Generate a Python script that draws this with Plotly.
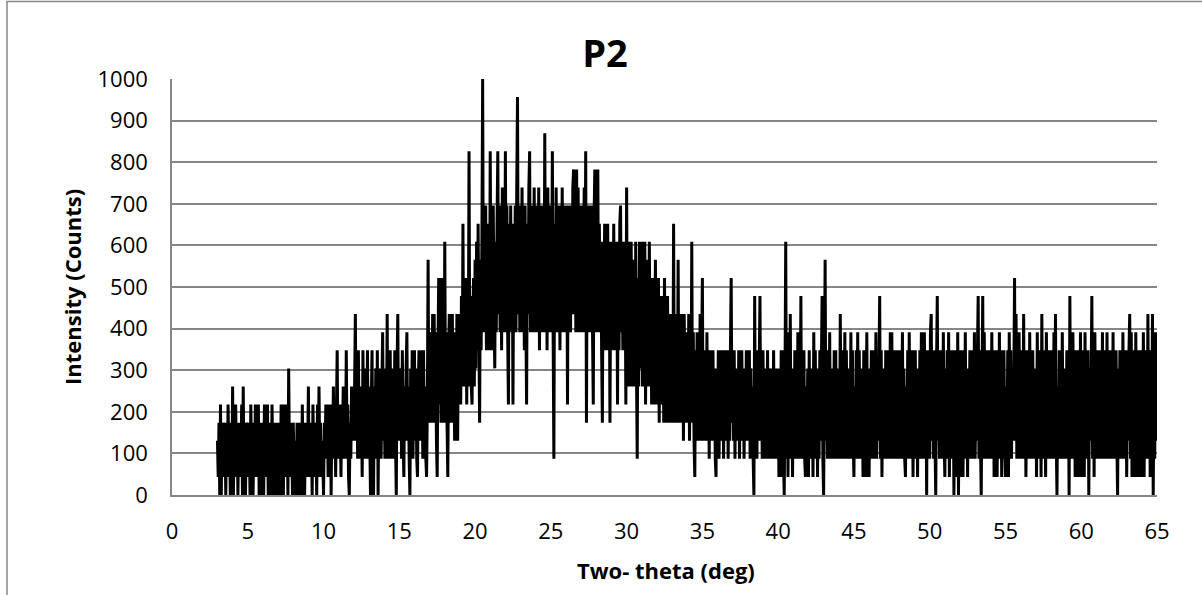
import plotly.graph_objects as go

# Counts (1 count = 1000/23 intensity units).
# One row per degree, 20 samples per row (0.05 deg apart), starting at 3.00 deg.
two_theta_start = 3.0
two_theta_step = 0.05
counts_per_intensity = 23 / 1000.0

counts_03_10 = [
    [3, 1, 4, 0, 5, 0, 3, 1, 4, 2, 3, 0, 4, 1, 5, 2, 3, 0, 4, 1],
    [6, 0, 3, 1, 5, 2, 4, 0, 3, 1, 4, 2, 5, 0, 6, 1, 3, 0, 4, 2],
    [4, 1, 3, 0, 5, 2, 4, 0, 3, 1, 5, 2, 4, 1, 5, 0, 3, 1, 4, 0],
    [3, 0, 5, 1, 4, 2, 5, 0, 3, 1, 4, 0, 5, 2, 3, 0, 4, 1, 3, 0],
    [4, 1, 3, 0, 5, 2, 4, 0, 5, 2, 5, 1, 4, 0, 7, 2, 4, 1, 3, 0],
    [4, 2, 0, 3, 0, 4, 1, 3, 0, 4, 2, 0, 5, 1, 4, 0, 3, 1, 4, 2],
    [6, 1, 4, 2, 3, 0, 5, 2, 4, 1, 3, 0, 5, 1, 6, 2, 4, 1, 3, 2],
]
counts_10_20 = [
    [0, 4, 2, 5, 3, 5, 1, 4, 2, 5, 0, 4, 2, 6, 3, 5, 1, 4, 8, 2],
    [5, 2, 4, 1, 5, 3, 6, 2, 4, 2, 8, 3, 5, 1, 0, 4, 2, 6, 3, 5],
    [3, 6, 10, 3, 7, 2, 8, 3, 6, 2, 5, 1, 8, 3, 7, 2, 6, 3, 8, 2],
    [6, 3, 0, 5, 8, 2, 0, 6, 3, 7, 2, 8, 0, 5, 3, 7, 2, 6, 9, 3],
    [6, 2, 7, 3, 10, 2, 6, 3, 8, 2, 7, 3, 6, 2, 8, 3, 0, 7, 10, 3],
    [7, 3, 6, 2, 8, 3, 1, 6, 3, 7, 9, 3, 6, 2, 0, 7, 3, 8, 2, 6],
    [8, 3, 7, 2, 1, 6, 8, 3, 7, 4, 8, 2, 8, 3, 6, 2, 1, 5, 13, 4],
    [8, 4, 9, 5, 10, 4, 10, 5, 9, 3, 1, 8, 12, 5, 11, 4, 12, 5, 9, 4],
    [14, 5, 9, 4, 1, 8, 10, 4, 9, 5, 10, 4, 9, 3, 8, 3, 10, 3, 9, 5],
    [10, 5, 11, 6, 15, 6, 12, 7, 11, 5, 12, 6, 19, 7, 11, 6, 5, 10, 12, 6],
]
counts_20_30 = [
    [13, 7, 14, 8, 15, 9, 4, 13, 8, 14, 23, 9, 15, 10, 16, 8, 14, 9, 15, 8],
    [19, 9, 15, 8, 16, 10, 7, 14, 9, 15, 19, 10, 16, 9, 15, 8, 17, 10, 15, 9],
    [19, 10, 16, 9, 5, 15, 10, 16, 9, 15, 5, 14, 10, 16, 9, 17, 22, 10, 16, 9],
    [16, 10, 17, 9, 15, 8, 16, 10, 5, 15, 10, 17, 19, 9, 16, 10, 15, 9, 17, 10],
    [15, 9, 16, 10, 17, 8, 15, 9, 16, 10, 15, 9, 20, 10, 16, 8, 17, 10, 15, 9],
    [16, 10, 19, 9, 2, 15, 10, 17, 9, 16, 10, 15, 8, 16, 10, 17, 9, 15, 10, 16],
    [9, 15, 5, 16, 10, 15, 9, 16, 10, 17, 18, 10, 16, 9, 18, 10, 17, 9, 15, 10],
    [16, 9, 15, 10, 17, 9, 19, 4, 15, 10, 16, 9, 15, 10, 16, 9, 5, 15, 18, 9],
    [18, 10, 18, 9, 15, 10, 14, 8, 4, 14, 9, 15, 8, 14, 10, 15, 8, 14, 4, 13],
    [9, 14, 8, 15, 9, 14, 8, 13, 5, 14, 8, 15, 16, 9, 13, 8, 14, 9, 13, 5],
]
counts_30_40 = [
    [17, 7, 13, 6, 14, 7, 14, 6, 13, 7, 12, 6, 14, 7, 2, 12, 6, 14, 7, 12],
    [14, 6, 12, 7, 14, 5, 13, 6, 12, 7, 14, 6, 11, 5, 12, 6, 11, 5, 13, 6],
    [11, 5, 12, 4, 10, 6, 11, 5, 10, 4, 12, 5, 9, 4, 11, 5, 10, 4, 9, 5],
    [10, 4, 15, 5, 9, 4, 10, 5, 13, 4, 9, 5, 10, 4, 9, 3, 10, 5, 9, 4],
    [9, 4, 10, 3, 8, 4, 14, 4, 9, 3, 1, 8, 4, 9, 3, 8, 4, 10, 3, 8],
    [12, 3, 8, 4, 7, 3, 9, 4, 7, 2, 8, 3, 7, 4, 8, 3, 7, 2, 1, 7],
    [3, 8, 2, 7, 4, 8, 3, 7, 2, 8, 4, 7, 3, 8, 2, 7, 3, 8, 12, 4],
    [7, 3, 8, 2, 7, 4, 6, 3, 8, 2, 7, 3, 8, 4, 7, 2, 6, 3, 8, 3],
    [7, 3, 8, 2, 7, 3, 6, 2, 0, 11, 3, 7, 2, 8, 3, 7, 11, 3, 7, 2],
    [8, 3, 7, 2, 6, 3, 8, 2, 7, 4, 6, 2, 7, 3, 8, 2, 6, 3, 7, 2],
]
counts_40_50 = [
    [6, 1, 7, 2, 8, 1, 8, 2, 0, 6, 14, 2, 6, 1, 9, 3, 10, 2, 6, 1],
    [7, 2, 8, 3, 6, 2, 9, 2, 7, 3, 11, 2, 6, 3, 8, 2, 1, 6, 2, 7],
    [1, 8, 3, 7, 2, 6, 1, 9, 2, 8, 3, 6, 1, 7, 2, 8, 3, 7, 11, 2],
    [0, 6, 13, 3, 7, 2, 8, 3, 9, 2, 6, 3, 7, 2, 8, 3, 8, 2, 6, 3],
    [7, 2, 10, 3, 8, 2, 7, 3, 9, 2, 8, 3, 6, 2, 7, 3, 9, 2, 8, 3],
    [1, 6, 2, 8, 3, 9, 2, 8, 3, 7, 2, 6, 1, 8, 3, 6, 1, 9, 2, 6],
    [1, 7, 2, 8, 3, 8, 2, 6, 3, 9, 2, 6, 3, 7, 11, 2, 8, 1, 7, 2],
    [6, 3, 8, 2, 8, 3, 6, 2, 9, 3, 9, 2, 6, 3, 8, 2, 6, 3, 8, 2],
    [6, 3, 8, 2, 9, 3, 7, 2, 1, 6, 3, 8, 2, 9, 3, 6, 2, 8, 1, 6],
    [3, 8, 2, 6, 1, 7, 3, 8, 2, 9, 3, 7, 2, 9, 3, 6, 0, 8, 3, 8],
]
counts_50_60 = [
    [2, 9, 10, 3, 7, 2, 8, 3, 0, 7, 11, 3, 6, 2, 8, 3, 8, 2, 9, 3],
    [1, 7, 2, 8, 3, 9, 1, 6, 2, 8, 3, 6, 0, 8, 1, 6, 2, 9, 0, 6],
    [1, 8, 3, 6, 1, 8, 2, 9, 3, 7, 1, 6, 2, 8, 3, 8, 2, 6, 3, 9],
    [2, 6, 3, 8, 11, 2, 8, 3, 0, 6, 11, 2, 9, 3, 6, 2, 8, 3, 8, 2],
    [7, 3, 9, 2, 8, 1, 6, 3, 8, 1, 6, 2, 9, 3, 8, 1, 6, 2, 8, 3],
    [1, 6, 2, 8, 1, 9, 3, 8, 2, 7, 3, 6, 12, 3, 10, 2, 8, 3, 9, 2],
    [8, 2, 6, 3, 10, 2, 8, 1, 6, 3, 8, 2, 9, 3, 7, 2, 8, 3, 7, 2],
    [6, 1, 9, 3, 6, 2, 8, 1, 10, 3, 6, 2, 8, 1, 9, 3, 7, 2, 8, 3],
    [8, 2, 6, 3, 9, 2, 10, 3, 0, 6, 2, 8, 3, 8, 2, 9, 3, 7, 2, 6],
    [3, 8, 2, 6, 0, 11, 3, 8, 2, 9, 3, 7, 1, 8, 2, 8, 1, 6, 2, 9],
]
counts_60_65 = [
    [1, 6, 2, 8, 1, 9, 3, 7, 2, 8, 0, 7, 3, 6, 11, 2, 8, 1, 9, 3],
    [7, 2, 8, 3, 8, 2, 6, 3, 9, 2, 6, 3, 8, 2, 9, 3, 6, 2, 8, 3],
    [6, 2, 9, 3, 8, 2, 8, 3, 0, 7, 2, 8, 3, 7, 2, 9, 3, 6, 2, 8],
    [1, 6, 3, 8, 10, 2, 9, 1, 7, 3, 8, 1, 9, 2, 8, 1, 6, 3, 8, 1],
    [6, 2, 9, 1, 8, 3, 7, 2, 10, 3, 8, 1, 7, 2, 10, 0, 6, 2, 9, 3],
]
count_at_65 = [5]

x_ticks = [0, 5, 10, 15, 20, 25, 30, 35, 40, 45, 50, 55, 60, 65]
y_ticks = [0, 100, 200, 300, 400, 500, 600, 700, 800, 900, 1000]

all_counts = []
for block in (counts_03_10, counts_10_20, counts_20_30, counts_30_40,
              counts_40_50, counts_50_60, counts_60_65):
    for row in block:
        assert len(row) == 20, row
        all_counts.extend(row)
all_counts.extend(count_at_65)

two_theta = [round(two_theta_start + two_theta_step * i, 3) for i in range(len(all_counts))]
intensity = [c / counts_per_intensity for c in all_counts]

FONT = "Open Sans"
GRID = "#868686"

fig = go.Figure()
fig.add_trace(go.Scatter(x=two_theta, y=intensity, mode="lines",
                         line=dict(color="black", width=3), showlegend=False))

W, H = 1202, 595
L, R, T, B = 172, 45, 79, 100
pw, ph = W - L - R, H - T - B

fig.update_layout(
    width=W, height=H,
    margin=dict(l=L, r=R, t=T, b=B),
    paper_bgcolor="white", plot_bgcolor="white",
    font=dict(family=FONT, color="black"),
    title=dict(text="<b>P2</b>", font=dict(family=FONT, size=38, color="black"),
               x=605 / W, xref="container", xanchor="center",
               y=1 - 54 / H, yref="container", yanchor="middle"),
    xaxis=dict(range=[0, 65], tickvals=x_ticks, showgrid=False, zeroline=False,
               showline=True, linecolor=GRID, linewidth=1.5,
               ticks="outside", ticklen=16, tickcolor="rgba(0,0,0,0)",
               tickfont=dict(family=FONT, size=22, color="black")),
    yaxis=dict(range=[0, 1000], tickvals=y_ticks, showgrid=True, gridcolor=GRID,
               gridwidth=1.5, zeroline=False,
               showline=True, linecolor=GRID, linewidth=1.5,
               ticks="outside", ticklen=18, tickcolor="rgba(0,0,0,0)",
               tickfont=dict(family=FONT, size=22, color="black")),
    annotations=[
        dict(text="<b>Two- theta (deg)</b>", xref="paper", yref="paper",
             x=(666 - L) / pw, y=(H - B - 570) / ph, xanchor="center", yanchor="middle",
             showarrow=False, font=dict(family=FONT, size=22, color="black")),
        dict(text="<b>Intensity (Counts)</b>", xref="paper", yref="paper",
             x=(72 - L) / pw, y=0.5, xanchor="center", yanchor="middle", textangle=-90,
             showarrow=False, font=dict(family=FONT, size=22, color="black")),
    ],
    shapes=[
        dict(type="rect", xref="paper", yref="paper",
             x0=(7 - L) / pw, x1=(W + 10 - L) / pw,
             y0=(H - B - (H + 10)) / ph, y1=(H - B - 1.5) / ph,
             line=dict(color=GRID, width=1.5), layer="below"),
    ],
)

fig.write_html("out.html")
